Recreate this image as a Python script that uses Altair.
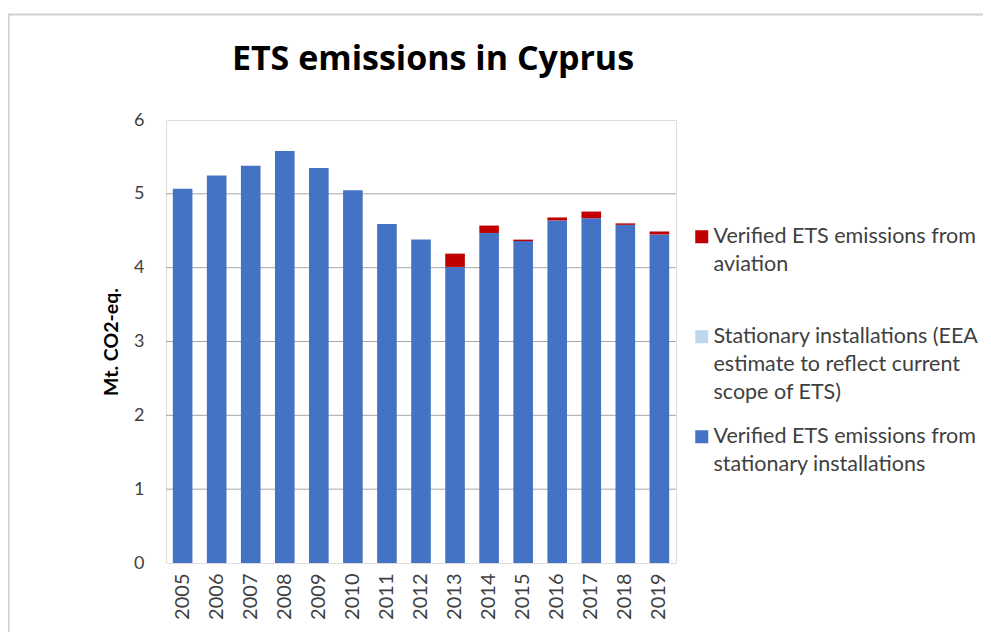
import altair as alt
import pandas as pd

years = [str(y) for y in range(2005, 2020)]
stationary = [5.07, 5.25, 5.38, 5.58, 5.35, 5.05, 4.59, 4.38, 4.01, 4.47, 4.36, 4.64, 4.67, 4.58, 4.45]
eea_estimate = [0.0] * 15
aviation = [0.0, 0.0, 0.0, 0.0, 0.0, 0.0, 0.0, 0.0, 0.18, 0.10, 0.02, 0.04, 0.09, 0.02, 0.04]

series_names = [
    "Verified ETS emissions from aviation",
    "Stationary installations (EEA estimate to reflect current scope of ETS)",
    "Verified ETS emissions from stationary installations",
]
series_colors = ["#C00000", "#BDD7EE", "#4472C4"]
grid_values = [1, 2, 3, 4, 5]

rows = []
for i, y in enumerate(years):
    rows.append({"year": y, "series": series_names[2], "value": stationary[i], "ord": 0})
    rows.append({"year": y, "series": series_names[1], "value": eea_estimate[i], "ord": 1})
    rows.append({"year": y, "series": series_names[0], "value": aviation[i], "ord": 2})
df = pd.DataFrame(rows)

FONT = "Lato"
TXT = "#404040"

yscale = alt.Scale(domain=[0, 6], nice=False)

label_expr = (
    "datum.label == 'Verified ETS emissions from aviation' ? ['Verified ETS emissions from', 'aviation', ''] : "
    "datum.label == 'Verified ETS emissions from stationary installations' ? ['Verified ETS emissions from', 'stationary installations', ''] : "
    "['Stationary installations (EEA', 'estimate to reflect current', 'scope of ETS)']"
)

grid = alt.Chart(pd.DataFrame({"g": grid_values})).mark_rule(color="#A6A6A6", strokeWidth=1).encode(
    y=alt.Y("g:Q", scale=yscale)
)

bars = alt.Chart(df).mark_bar().encode(
    x=alt.X(
        "year:N",
        sort=years,
        scale=alt.Scale(paddingInner=0.424, paddingOuter=0.2),
        axis=alt.Axis(
            title=None, labelAngle=-90, labelFontSize=20, labelFont=FONT, labelColor=TXT,
            ticks=False, domain=False, labelPadding=10,
        ),
    ),
    y=alt.Y(
        "value:Q",
        stack="zero",
        scale=yscale,
        axis=alt.Axis(
            title="Mt. CO2-eq.", titleFont=FONT, titleFontSize=19.5, titleFontWeight="bold",
            titleColor="#000000", titlePadding=12,
            values=[0, 1, 2, 3, 4, 5, 6], format="d", labelFontSize=18, labelFont=FONT,
            labelColor=TXT, labelPadding=22, ticks=False, domain=False, grid=False,
        ),
    ),
    color=alt.Color(
        "series:N",
        scale=alt.Scale(domain=series_names, range=series_colors),
        legend=alt.Legend(
            title=None, orient="none", legendX=525, legendY=106, symbolType="square",
            symbolSize=169, symbolStrokeWidth=0, labelFont=FONT, labelFontSize=21.5,
            labelColor=TXT, labelLimit=320, labelOffset=1, rowPadding=21, padding=0,
            labelExpr=label_expr,
        ),
    ),
    order=alt.Order("ord:Q"),
)

frame = alt.Chart(pd.DataFrame({"a": [0]})).mark_rect(
    fill=None, stroke="#D0D0D0", strokeWidth=2
).encode(
    x=alt.value(-157.5), x2=alt.value(900), y=alt.value(-105.5), y2=alt.value(700)
)

chart = alt.layer(frame, grid, bars).properties(
    width=510,
    height=443,
    autosize=alt.AutoSizeParams(type="none"),
    padding={"left": 158, "top": 112, "right": 307, "bottom": 69},
    title=alt.TitleParams(
        "ETS emissions in Cyprus", font="Open Sans", fontSize=34, fontWeight="bold", color="#000000",
        anchor="middle", frame="group", baseline="alphabetic", offset=-90, dx=12,
    ),
).configure_view(
    stroke="#D9DEE8", strokeWidth=2
).configure(
    background="#FFFFFF",
    style={"guide-label": {"lineHeight": 28}},
)

chart.save("out.html", embed_options={"renderer": "svg", "actions": False})
